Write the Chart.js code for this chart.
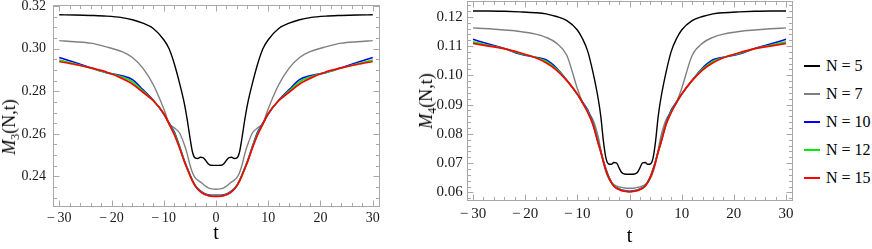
<!DOCTYPE html>
<html><head><meta charset="utf-8">
<script src="https://cdn.jsdelivr.net/npm/chart.js@4.4.1/dist/chart.umd.min.js"></script>
<style>
html,body{margin:0;padding:0;background:#fff;width:872px;height:249px;overflow:hidden;}
body{position:relative;font-family:'Liberation Serif','Times New Roman','DejaVu Serif',serif;}
.box{position:absolute;top:0;height:249px;}
.ytitle{position:absolute;font-size:18px;color:#000;white-space:nowrap;transform:translate(-50%,-50%) rotate(-90deg);line-height:1;}
.ytitle i{font-style:italic;}
.ytitle sub{font-size:12px;vertical-align:-4px;line-height:0;}
.item{position:absolute;left:804px;white-space:nowrap;font-size:16px;height:18px;line-height:18px;color:#000;}
.item .ln{position:absolute;left:0;top:8px;width:16px;height:2px;}
.item .tx{position:absolute;left:22px;top:0;}
</style></head>
<body>
<div class="box" style="left:0;width:392px"><canvas id="c1" width="392" height="249"></canvas></div>
<div class="box" style="left:420px;width:380px"><canvas id="c2" width="380" height="249"></canvas></div>
<div class="ytitle" style="left:9px;top:127px"><i>M</i><sub>3</sub>(N,t)</div>
<div class="ytitle" style="left:426px;top:101px"><i>M</i><sub>4</sub>(N,t)</div>
<div id="legend"></div>
<script>
const T = [-30,-27,-24,-21,-18,-16,-14,-12,-10,-9,-8,-7,-6,-5.5,-5,-4.5,-4,-3.5,-3,-2.5,-2,-1.5,-1,0,1,1.5,2,2.5,3,3.5,4,4.5,5,5.5,6,7,8,9,10,12,14,16,18,21,24,27,30];
const SERIES = ['N = 5','N = 7','N = 10','N = 12','N = 15'];
const X_TICKS = [-30,-20,-10,0,10,20,30];
const Y3_TICKS = [0.24,0.26,0.28,0.30,0.32];
const Y4_TICKS = [0.06,0.07,0.08,0.09,0.10,0.11,0.12];

const M3_N5 = [0.3158,0.3157,0.3155,0.3152,0.3145,0.3135,0.3119,0.3094,0.3041,0.3000,0.2930,0.2840,0.2735,0.2665,0.2585,0.2515,0.2487,0.2484,0.2490,0.2488,0.2476,0.2460,0.2453,0.2452,0.2453,0.2460,0.2476,0.2488,0.2490,0.2484,0.2487,0.2515,0.2585,0.2665,0.2735,0.2840,0.2930,0.3000,0.3041,0.3094,0.3119,0.3135,0.3145,0.3152,0.3155,0.3157,0.3158];
const M3_N7 = [0.3037,0.3032,0.3025,0.3008,0.2985,0.2958,0.2908,0.2830,0.2718,0.2652,0.2628,0.2605,0.2545,0.2505,0.2455,0.2418,0.2395,0.2383,0.2375,0.2365,0.2355,0.2347,0.2343,0.2340,0.2343,0.2347,0.2355,0.2365,0.2375,0.2383,0.2395,0.2418,0.2455,0.2505,0.2545,0.2605,0.2628,0.2652,0.2718,0.2830,0.2908,0.2958,0.2985,0.3008,0.3025,0.3032,0.3037];
const M3_N10 = [0.2958,0.2934,0.2910,0.2887,0.2872,0.2854,0.2807,0.2757,0.2693,0.2650,0.2609,0.2543,0.2470,0.2439,0.2409,0.2381,0.2359,0.2343,0.2332,0.2324,0.2318,0.2314,0.2312,0.2312,0.2312,0.2314,0.2318,0.2324,0.2332,0.2343,0.2359,0.2381,0.2409,0.2439,0.2470,0.2543,0.2609,0.2650,0.2693,0.2757,0.2807,0.2854,0.2872,0.2887,0.2910,0.2934,0.2958];
const M3_N12 = [0.2946,0.2929,0.2909,0.2888,0.2867,0.2844,0.2801,0.2756,0.2694,0.2648,0.2603,0.2539,0.2468,0.2437,0.2407,0.2379,0.2357,0.2341,0.2330,0.2322,0.2316,0.2312,0.2310,0.2310,0.2310,0.2312,0.2316,0.2322,0.2330,0.2341,0.2357,0.2379,0.2407,0.2437,0.2468,0.2539,0.2603,0.2648,0.2694,0.2756,0.2801,0.2844,0.2867,0.2888,0.2909,0.2929,0.2946];
const M3_N15 = [0.2939,0.2925,0.2909,0.2890,0.2860,0.2834,0.2795,0.2755,0.2695,0.2647,0.2597,0.2535,0.2466,0.2436,0.2406,0.2378,0.2356,0.2340,0.2329,0.2320,0.2314,0.2310,0.2308,0.2307,0.2308,0.2310,0.2314,0.2320,0.2329,0.2340,0.2356,0.2378,0.2406,0.2436,0.2466,0.2535,0.2597,0.2647,0.2695,0.2755,0.2795,0.2834,0.2860,0.2890,0.2909,0.2925,0.2939];

const M4_N5 = [0.1220,0.1220,0.1219,0.1217,0.1214,0.1210,0.1201,0.1187,0.1155,0.1125,0.1082,0.1010,0.0920,0.0860,0.0775,0.0716,0.0697,0.0696,0.0702,0.0701,0.0684,0.0668,0.0663,0.0662,0.0663,0.0668,0.0684,0.0701,0.0702,0.0696,0.0697,0.0716,0.0775,0.0860,0.0920,0.1010,0.1082,0.1125,0.1155,0.1187,0.1201,0.1210,0.1214,0.1217,0.1219,0.1220,0.1220];
const M4_N7 = [0.1162,0.1159,0.1155,0.1150,0.1141,0.1130,0.1110,0.1068,0.0955,0.0908,0.0875,0.0848,0.0790,0.0745,0.0700,0.0668,0.0648,0.0634,0.0627,0.0622,0.0619,0.0617,0.0615,0.0614,0.0615,0.0617,0.0619,0.0622,0.0627,0.0634,0.0648,0.0668,0.0700,0.0745,0.0790,0.0848,0.0875,0.0908,0.0955,0.1068,0.1110,0.1130,0.1141,0.1150,0.1155,0.1159,0.1162];
const M4_N10 = [0.1123,0.1107,0.1092,0.1073,0.1062,0.1053,0.1025,0.0983,0.0935,0.0909,0.0881,0.0835,0.0770,0.0740,0.0707,0.0678,0.0654,0.0636,0.0623,0.0616,0.0612,0.0608,0.0606,0.0604,0.0606,0.0608,0.0612,0.0616,0.0623,0.0636,0.0654,0.0678,0.0707,0.0740,0.0770,0.0835,0.0881,0.0909,0.0935,0.0983,0.1025,0.1053,0.1062,0.1073,0.1092,0.1107,0.1123];
const M4_N12 = [0.1115,0.1103,0.1091,0.1075,0.1061,0.1048,0.1021,0.0982,0.0935,0.0907,0.0877,0.0833,0.0769,0.0739,0.0706,0.0677,0.0653,0.0635,0.0622,0.0615,0.0611,0.0607,0.0605,0.0603,0.0605,0.0607,0.0611,0.0615,0.0622,0.0635,0.0653,0.0677,0.0706,0.0739,0.0769,0.0833,0.0877,0.0907,0.0935,0.0982,0.1021,0.1048,0.1061,0.1075,0.1091,0.1103,0.1115];
const M4_N15 = [0.1109,0.1100,0.1091,0.1077,0.1060,0.1043,0.1018,0.0982,0.0936,0.0906,0.0873,0.0831,0.0768,0.0738,0.0705,0.0676,0.0652,0.0634,0.0621,0.0614,0.0610,0.0606,0.0604,0.0602,0.0604,0.0606,0.0610,0.0614,0.0621,0.0634,0.0652,0.0676,0.0705,0.0738,0.0768,0.0831,0.0873,0.0906,0.0936,0.0982,0.1018,0.1043,0.1060,0.1077,0.1091,0.1100,0.1109];

const COLORS = ['#000000','#808080','#0000ff','#00ee00','#ff0000'];
const WIDTHS = [1.4,1.4,1.6,1.6,1.7];
const FONT = "'Liberation Serif', 'Times New Roman', 'DejaVu Serif', serif";

// legend
const lg = document.getElementById('legend');
const LEG_Y = [57,84.5,112.5,141,168.5];
SERIES.forEach((s,i)=>{
  const d = document.createElement('div');
  d.className='item'; d.style.top = LEG_Y[i]+'px';
  const ln = document.createElement('span'); ln.className='ln'; ln.style.backgroundColor = COLORS[i];
  const tx = document.createElement('span'); tx.className='tx'; tx.textContent = s;
  d.appendChild(ln); d.appendChild(tx);
  lg.appendChild(d);
});

const frameTicks = {
  id:'frameTicks',
  afterDatasetsDraw(chart, args, o){
    const {ctx, chartArea:a, scales:{x,y}} = chart;
    ctx.save();
    ctx.strokeStyle = '#a8a8a8'; ctx.lineWidth = 1;
    const L = Math.round(a.left)+0.5, R = Math.round(a.right)+0.5, Tp = Math.round(a.top)+0.5, B = Math.round(a.bottom)+0.5;
    ctx.strokeRect(L, Tp, R-L, B-Tp);
    ctx.beginPath();
    for (let k=-15;k<=15;k++){
      const v = 2*k; const px = Math.round(x.getPixelForValue(v))+0.5;
      const len = (v%10===0)?6:3.5;
      ctx.moveTo(px,B); ctx.lineTo(px,B-len);
      ctx.moveTo(px,Tp); ctx.lineTo(px,Tp+len);
    }
    for (let k=o.k0;k<=o.k1;k++){
      const v = k*o.step; const py = Math.round(y.getPixelForValue(v))+0.5;
      if (py < a.top-0.5 || py > a.bottom+0.5) continue;
      const len = (k % o.major === 0)?6:3.5;
      ctx.moveTo(L,py); ctx.lineTo(L+len,py);
      ctx.moveTo(R,py); ctx.lineTo(R-len,py);
    }
    ctx.stroke();
    ctx.restore();
  }
};

function fmtX(v){ return v<0 ? '\u2212\u2009'+Math.abs(v) : String(v); }

function makeChart(id, arrays, yTicks, yMin, yMax, cfg){
  const datasets = arrays.map((arr,i)=>({
    label: SERIES[i],
    data: T.map((t,j)=>({x:t,y:arr[j]})),
    borderColor: COLORS[i], backgroundColor: COLORS[i],
    borderWidth: WIDTHS[i], pointRadius:0, fill:false,
    cubicInterpolationMode:'monotone',
    order: arrays.length-1-i
  }));
  return new Chart(document.getElementById(id), {
    type:'line',
    data:{datasets},
    plugins:[frameTicks],
    options:{
      responsive:false, animation:false, devicePixelRatio:1,
      layout:{padding:{left:0,top:cfg.top,right:cfg.right,bottom:0}},
      plugins:{legend:{display:false}, tooltip:{enabled:false}, frameTicks:cfg.ft},
      scales:{
        x:{type:'linear', min:-31.2, max:31.2,
          afterBuildTicks:s=>{s.ticks = X_TICKS.map(v=>({value:v}));},
          ticks:{callback:v=>fmtX(v), autoSkip:false, maxRotation:0, includeBounds:false,
            font:{family:FONT, size:cfg.fs}, color:'#1a1a1a', padding:cfg.xpad},
          grid:{display:false, drawTicks:false}, border:{display:false},
          title:{display:true, text:'t', color:'#000', font:{family:FONT, size:20}, padding:{top:0,bottom:cfg.tpad}},
          afterFit:s=>{s.height = cfg.xh; s.paddingLeft=0; s.paddingRight=0;}
        },
        y:{type:'linear', min:yMin, max:yMax,
          afterBuildTicks:s=>{s.ticks = yTicks.map(v=>({value:v}));},
          ticks:{callback:v=>Number(v).toFixed(2), autoSkip:false, includeBounds:false,
            font:{family:FONT, size:cfg.fs}, color:'#1a1a1a', padding:cfg.ypad},
          grid:{display:false, drawTicks:false}, border:{display:false},
          afterFit:s=>{s.width = cfg.yw; s.paddingTop=0; s.paddingBottom=0;}
        }
      }
    }
  });
}

makeChart('c1', [M3_N5,M3_N7,M3_N10,M3_N12,M3_N15], Y3_TICKS, 0.2264, 0.3204,
  {top:5, right:13, xh:43.5, yw:53, fs:14, xpad:4, ypad:7, tpad:3, ft:{step:0.005,k0:45,k1:64,major:4}});
makeChart('c2', [M4_N5,M4_N7,M4_N10,M4_N12,M4_N15], Y4_TICKS, 0.0574, 0.1254,
  {top:1, right:7.7, xh:49, yw:46.7, fs:15, xpad:5, ypad:4, tpad:0, ft:{step:0.002,k0:28,k1:63,major:5}});
</script>
</body></html>
